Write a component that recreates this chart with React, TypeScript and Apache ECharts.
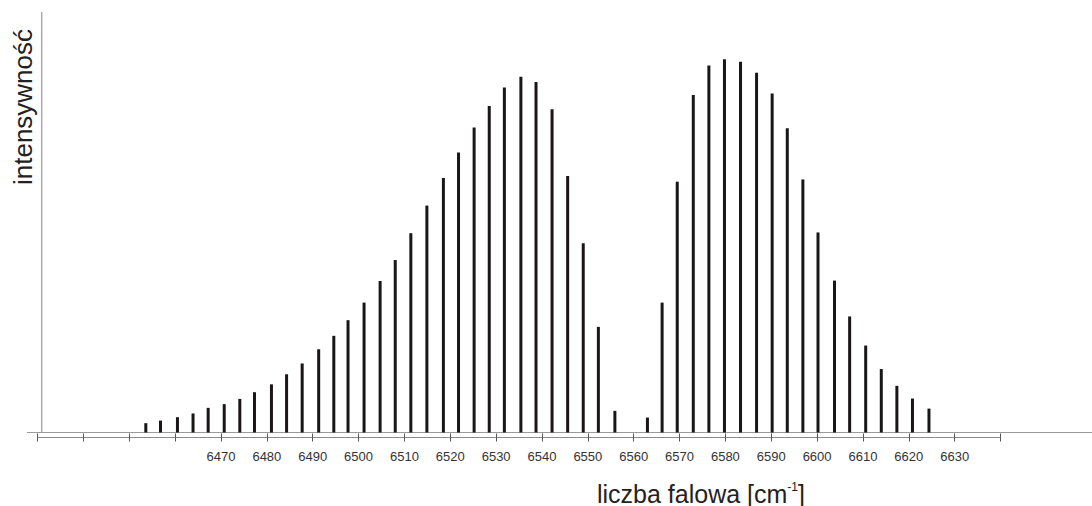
import React, { useEffect, useRef } from "react";
import * as echarts from "echarts";

const pWavenumbers = [6453.6, 6456.8, 6460.5, 6463.9, 6467.2, 6470.7, 6474.1, 6477.3, 6481.0, 6484.3, 6487.7, 6491.3, 6494.6, 6497.7, 6501.2, 6504.7, 6508.0, 6511.4, 6514.9, 6518.5, 6521.8, 6525.2, 6528.5, 6531.8, 6535.4, 6538.7, 6542.2, 6545.6, 6549.0, 6552.3, 6555.9];
const pIntensity = [2.5, 3.2, 4.1, 5.1, 6.6, 7.6, 9.0, 10.8, 12.9, 15.6, 18.5, 22.3, 25.9, 30.1, 34.8, 40.6, 46.2, 53.4, 60.8, 68.2, 75.0, 81.7, 87.5, 92.4, 95.3, 93.9, 86.6, 68.7, 50.7, 28.3, 5.8];
const rWavenumbers = [6563.0, 6566.2, 6569.5, 6573.0, 6576.4, 6579.8, 6583.3, 6586.8, 6590.2, 6593.5, 6596.9, 6600.2, 6603.8, 6607.1, 6610.6, 6614.0, 6617.4, 6620.8, 6624.4];
const rIntensity = [4.0, 34.8, 67.2, 90.4, 98.3, 100, 99.3, 96.4, 90.8, 81.5, 67.8, 53.6, 40.7, 31.1, 23.3, 17.0, 12.5, 9.1, 6.4];

const xMin = 6430;
const xMax = 6640;
const xInterval = 10;
const labelFrom = 6470;
const labelTo = 6630;

const xTitle = "liczba falowa [cm{sup|-1}]";
const yTitle = "intensywność";

const FONT = "'Liberation Sans', Arial, sans-serif";

export default function App() {
  const ref = useRef<HTMLDivElement>(null);
  useEffect(() => {
    if (!ref.current) return;
    const chart = echarts.init(ref.current, undefined, { renderer: "svg" });
    const pData = pWavenumbers.map((x, i) => [x, pIntensity[i]]);
    const rData = rWavenumbers.map((x, i) => [x, rIntensity[i]]);
    const baseAxis = {
      type: "value",
      min: xMin,
      max: xMax,
      interval: xInterval,
      position: "bottom",
      offset: 5,
      splitLine: { show: false },
    };
    chart.setOption({
      animation: false,
      grid: { left: 37.6, right: 91.5, top: 12.6, bottom: 73.5 },
      xAxis: [
        {
          ...baseAxis,
          axisLine: { show: true, onZero: false, lineStyle: { color: "#8c8c8c", width: 1.2 } },
          axisTick: { show: true, inside: false, length: 4, lineStyle: { color: "#555", width: 1 } },
          axisLabel: {
            show: true,
            margin: 12,
            fontSize: 13,
            fontFamily: FONT,
            color: "#333",
            formatter: (v: number) => (v >= labelFrom && v <= labelTo ? String(v) : ""),
          },
        },
        {
          ...baseAxis,
          axisLine: { show: false, onZero: false },
          axisTick: { show: true, inside: true, length: 4, lineStyle: { color: "#555", width: 1 } },
          axisLabel: { show: false },
        },
      ],
      yAxis: {
        type: "value",
        min: 0,
        max: 112.5,
        show: false,
      },
      graphic: [
        {
          type: "line",
          shape: { x1: 27, y1: 432.5, x2: 1092, y2: 432.5 },
          style: { stroke: "#9a9a9a", lineWidth: 1.2 },
          z: 1,
        },
        {
          type: "line",
          shape: { x1: 41.7, y1: 12, x2: 41.7, y2: 432.5 },
          style: { stroke: "#aaaaaa", lineWidth: 1.5 },
        },
        {
          type: "text",
          x: 23,
          y: 107,
          rotation: Math.PI / 2,
          style: {
            text: yTitle,
            fontSize: 26,
            fontFamily: FONT,
            fill: "#222",
            align: "center",
            verticalAlign: "middle",
          },
        },
        {
          type: "text",
          x: 597,
          y: 481,
          style: {
            text: xTitle,
            fontSize: 25,
            fontFamily: FONT,
            fill: "#222",
            align: "left",
            verticalAlign: "top",
            rich: {
              sup: { fontSize: 12, fontFamily: FONT, fill: "#222", verticalAlign: "top", padding: [0, 0, 12, 0] },
            },
          },
        },
      ],
      series: [
        {
          type: "bar",
          xAxisIndex: 0,
          data: pData,
          barWidth: 3,
          itemStyle: { color: "#1a1616" },
          z: 3,
        },
        {
          type: "bar",
          xAxisIndex: 0,
          data: rData,
          barWidth: 3,
          barGap: "-100%",
          itemStyle: { color: "#1a1616" },
          z: 3,
        },
      ],
    });
    return () => chart.dispose();
  }, []);
  return (
    <div
      ref={ref}
      style={{ position: "fixed", left: 0, top: 0, width: 1092, height: 506, background: "#fff" }}
    />
  );
}
